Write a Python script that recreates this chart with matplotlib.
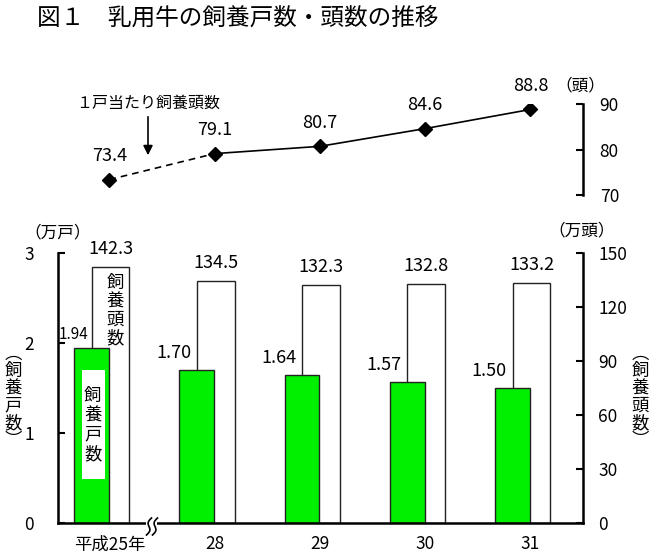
import numpy as np
import matplotlib
matplotlib.use("Agg")
import matplotlib.pyplot as plt
from matplotlib.patches import Rectangle
from matplotlib.transforms import IdentityTransform

plt.rcParams['font.family'] = ['Noto Sans CJK JP', 'DejaVu Sans']

# data
years = ['平成25年', '28', '29', '30', '31']
households = [1.94, 1.70, 1.64, 1.57, 1.50]    # 飼養戸数 (万戸)
heads = [142.3, 134.5, 132.3, 132.8, 133.2]    # 飼養頭数 (万頭)
per_farm = [73.4, 79.1, 80.7, 84.6, 88.8]      # 1戸当たり飼養頭数 (頭)

green = '#00f000'
x = np.arange(len(years))
xlim = (-0.32, 4.67)

fig = plt.figure(figsize=(6.5, 5.55), dpi=100)

# --- bottom: bars ---
ax = fig.add_axes([0.089, 0.0577, 0.808, 0.4865])
ax2 = ax.twinx()
ax.set_zorder(ax2.get_zorder() + 1)
ax.patch.set_visible(False)

ax2.bar(x, heads, width=0.36, align='edge', color='white', edgecolor='#222222', linewidth=1)
ax.bar(x, households, width=0.33, color=green, edgecolor='#222222', linewidth=1)

ax.set_xlim(*xlim)
ax.set_ylim(0, 3)
ax2.set_ylim(0, 150)
ax.set_yticks([0, 1, 2, 3])
ax2.set_yticks([0, 30, 60, 90, 120, 150])

ax.spines['top'].set_visible(False)
ax2.spines['top'].set_visible(False)
ax.spines['right'].set_visible(False)
ax2.spines['left'].set_visible(False)
ax2.spines['bottom'].set_visible(False)
ax.spines['left'].set_linewidth(1.8)
ax2.spines['right'].set_linewidth(1.8)
ax.spines['bottom'].set_linewidth(1.8)

ax.tick_params(axis='y', direction='in', length=5, width=1.5, pad=17, labelsize=12.5)
ax2.tick_params(axis='y', direction='in', length=5, width=1.5, pad=11, labelsize=12.5)
ax.set_xticks(x)
ax.set_xticks(x + 0.17, minor=True)
ax.set_xticklabels(years, minor=True, fontsize=12.5)
ax.tick_params(axis='x', which='major', direction='in', length=4, width=1.2, labelbottom=False)
ax.tick_params(axis='x', which='minor', length=0, pad=9)
ax2.set_xticks([])

# value labels
for i, h in enumerate(households):
    if i == 0:
        ax.text(x[i] - 0.17, h + 0.15, f'{h:.2f}', ha='center', va='center', fontsize=11)
    else:
        ax.text(x[i] - 0.22, h + 0.19, f'{h:.2f}', ha='center', va='center', fontsize=13)
for i, h in enumerate(heads):
    ax2.text(x[i] + 0.18, h + 9.9, f'{h:.1f}', ha='center', va='center', fontsize=13)

# labels inside the first bars
ax2.text(0.225, 118, '飼\n養\n頭\n数', ha='center', va='center', fontsize=12.5, linespacing=1.05)
ax.add_patch(Rectangle((-0.095, 0.49), 0.22, 1.21, facecolor='white', edgecolor='none', zorder=5))
ax.text(0.012, 1.09, '飼\n養\n戸\n数', ha='center', va='center', fontsize=12.5, linespacing=1.1, zorder=6)

# axis break mark on the bottom spine
ax.add_patch(Rectangle((0.52, -0.03), 0.1, 0.06, facecolor='white', edgecolor='none',
                       clip_on=False, zorder=10))
t = np.linspace(0, 1, 40)
for x0 in (149, 155):
    xs = x0 + (t - 0.5) * 5 + 2.0 * np.sin(2 * np.pi * t)
    ys = 555 - (535 - 17 * t)
    ax.plot(xs, ys, color='black', lw=1.2, transform=IdentityTransform(), clip_on=False, zorder=11)

# unit / axis labels
fig.text(58 / 650, 1 - 233 / 555, '（万戸）', ha='center', va='center', fontsize=12)
fig.text(582 / 650, 1 - 231 / 555, '（万頭）', ha='center', va='center', fontsize=12)
fig.text(13 / 650, 1 - 397 / 555, '︵\n飼\n養\n戸\n数\n︶', ha='center', va='center',
         fontsize=12.5, linespacing=0.95)
fig.text(640 / 650, 1 - 397 / 555, '︵\n飼\n養\n頭\n数\n︶', ha='center', va='center',
         fontsize=12.5, linespacing=0.95)

# --- top: line ---
axt = fig.add_axes([0.089, 0.6486, 0.808, 0.164])
axt.patch.set_visible(False)
xp = x + 0.17
axt.plot(xp[:2], per_farm[:2], color='black', lw=1.2, ls=(0, (4, 3)))
axt.plot(xp[1:], per_farm[1:], color='black', lw=1.2)
axt.plot(xp, per_farm, ls='none', marker='D', ms=7, color='black')
for xi, v in zip(xp, per_farm):
    axt.annotate(f'{v:.1f}', (xi, v), xytext=(0, 17), textcoords='offset points',
                 ha='center', va='center', fontsize=13)
axt.set_xlim(*xlim)
axt.set_ylim(70, 90)
axt.set_yticks([70, 80, 90])
axt.set_xticks([])
for s in ('top', 'left', 'bottom'):
    axt.spines[s].set_visible(False)
axt.spines['right'].set_linewidth(1.8)
axt.yaxis.tick_right()
axt.tick_params(axis='y', direction='in', length=5, width=1.5, pad=12, labelsize=12.5)

fig.text(580 / 650, 1 - 86 / 555, '（頭）', ha='center', va='center', fontsize=12)
fig.text(148 / 650, 1 - 103 / 555, '１戸当たり飼養頭数', ha='center', va='center', fontsize=11.5)
axt.annotate('', xy=(148, 555 - 158), xytext=(148, 555 - 114),
             xycoords='figure pixels', textcoords='figure pixels',
             arrowprops=dict(arrowstyle='-|>', color='black', lw=1.2, mutation_scale=14))

# title
fig.text(37 / 650, 1 - 18 / 555, '図１　乳用牛の飼養戸数・頭数の推移', ha='left', va='center',
         fontsize=17)

fig.savefig('out.png', dpi=100)
